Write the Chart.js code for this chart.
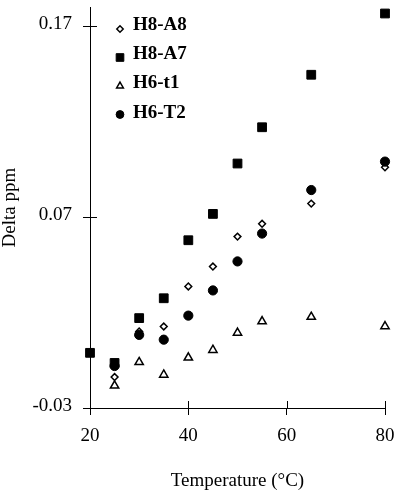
<!DOCTYPE html>
<html>
<head>
<meta charset="utf-8">
<script src="https://cdn.jsdelivr.net/npm/chart.js@4"></script>
<style>
  html, body { margin:0; padding:0; background:#fff; }
  #wrap { width:400px; height:494px; position:relative; }
</style>
</head>
<body>
<div id="wrap"><canvas id="chart"></canvas></div>
<script>
// temperatures (°C) and chemical shift changes (ppm)
const temps  = [20, 25, 30, 35, 40, 45, 50, 55, 65, 80];
const h8a8   = [null, -0.0138, 0.0101, 0.0127, 0.0337, 0.0441, 0.0598, 0.0665, 0.0771, 0.0961];
const h8a7   = [-0.0011, -0.0064, 0.0171, 0.0275, 0.0579, 0.0717, 0.0981, 0.1171, 0.1446, 0.1767];
const h6t1   = [null, -0.0183, -0.0060, -0.0126, -0.0036, 0.0004, 0.0094, 0.0154, 0.0177, 0.0128];
const h6t2   = [null, -0.0080, 0.0083, 0.0058, 0.0184, 0.0316, 0.0468, 0.0614, 0.0842, 0.0991];
const seriesNames = ['H8-A8', 'H8-A7', 'H6-t1', 'H6-T2'];
const yTickValues = [-0.03, 0.07, 0.17];
const yTickLabels = ['-0.03', '0.07', '0.17'];
const xTickValues = [20, 40, 60, 80];

const FONT = "'Liberation Serif', 'Times New Roman', serif";
const pts = vals => temps.map((t, i) => ({x: t, y: vals[i]})).filter(p => p.y !== null);

// marker look per series (legR = marker size in the legend)
const looks = [
  {pointStyle:'rectRot', pointRadius:3.4, pointBackgroundColor:'#fff', pointBorderColor:'#000', pointBorderWidth:1.5, order:4, legR:3.2},
  {pointStyle:'rect', pointRadius:6.2, pointBackgroundColor:'#000', pointBorderColor:'#000', pointBorderWidth:1, order:3, legR:5.4},
  {pointStyle:'triangle', pointRadius:4.8, pointBackgroundColor:'#fff', pointBorderColor:'#000', pointBorderWidth:1.5, order:2, legR:3.9},
  {pointStyle:'circle', pointRadius:4.6, pointBackgroundColor:'#000', pointBorderColor:'#000', pointBorderWidth:1, order:1, legR:3.9}
];
const datasets = [h8a8, h8a7, h6t1, h6t2].map((v, i) => Object.assign({
  label: seriesNames[i], data: pts(v), showLine:false, clip:false, pointHoverRadius: looks[i].pointRadius
}, looks[i]));

// ticks that cross the axis line: Chart.js draws the outer half, this adds the inner half
const crossTicks = {
  id:'crossTicks',
  afterDraw(chart){
    const {ctx, chartArea:a, scales:{x, y}} = chart;
    ctx.save(); ctx.strokeStyle = '#000'; ctx.lineWidth = 1;
    ctx.beginPath();
    x.ticks.forEach(t => { const px = Math.round(x.getPixelForValue(t.value)) + 0.5; ctx.moveTo(px, a.bottom); ctx.lineTo(px, a.bottom - 7); });
    y.ticks.forEach(t => { const py = Math.round(y.getPixelForValue(t.value)) + 0.5; ctx.moveTo(a.left, py); ctx.lineTo(a.left + 7, py); });
    ctx.stroke(); ctx.restore();
  }
};

// legend in the upper-left of the plot: marker sits on the baseline, bold label to its right
const insideLegend = {
  id:'insideLegend',
  afterDraw(chart){
    const ctx = chart.ctx;
    ctx.save();
    ctx.font = "bold 19px " + FONT; ctx.textBaseline = 'alphabetic'; ctx.textAlign = 'left';
    chart.data.datasets.forEach((ds, i) => {
      const base = 30 + i * 29.2, my = 29 + i * 28.5;
      const opts = {pointStyle: ds.pointStyle, radius: ds.legR, borderWidth: ds.pointBorderWidth, rotation: 0};
      ctx.fillStyle = ds.pointBackgroundColor; ctx.strokeStyle = ds.pointBorderColor; ctx.lineWidth = ds.pointBorderWidth;
      Chart.helpers.drawPoint(ctx, opts, 120, my);
      ctx.fillStyle = '#000';
      ctx.fillText(ds.label, 133, base);
    });
    ctx.restore();
  }
};

new Chart(document.getElementById('chart'), {
  type:'scatter',
  data:{ datasets },
  options:{
    responsive:true, maintainAspectRatio:false, animation:false,
    layout:{ padding:{left:0, right:15, top:3, bottom:0} },
    plugins:{ legend:{display:false}, tooltip:{enabled:false} },
    scales:{
      x:{
        type:'linear', min:20, max:80,
        afterBuildTicks: s => { s.ticks = xTickValues.map(v => ({value:v})); },
        afterFit: s => { s.height = 86; s.paddingLeft = 0; s.paddingRight = 0; },
        ticks:{ color:'#000', font:{family:FONT, size:19}, padding:10, maxRotation:0 },
        grid:{ drawOnChartArea:false, color:'#000', lineWidth:1, tickLength:7 },
        border:{ color:'#000', width:1 },
        title:{ display:true, text:'Temperature (°C)', color:'#000', font:{family:FONT, size:19}, padding:{top:0, bottom:2} }
      },
      y:{
        type:'linear', min:-0.03, max:0.18,
        afterBuildTicks: s => { s.ticks = yTickValues.map(v => ({value:v})); },
        afterFit: s => { s.width = 90; s.paddingTop = 0; s.paddingBottom = 0; },
        // second empty line with a short line height lifts each label ~2.5px above its tick, as in the original
        ticks:{ color:'#000', font:{family:FONT, size:19, lineHeight:0.26}, padding:11, callback:(v, i) => [yTickLabels[i], ''] },
        grid:{ drawOnChartArea:false, color:'#000', lineWidth:1, tickLength:7 },
        border:{ color:'#000', width:1 },
        title:{ display:true, text:'Delta ppm', color:'#000', font:{family:FONT, size:19, lineHeight:1.1}, padding:{top:0, bottom:0} }
      }
    }
  },
  plugins:[crossTicks, insideLegend]
});
</script>
</body>
</html>
